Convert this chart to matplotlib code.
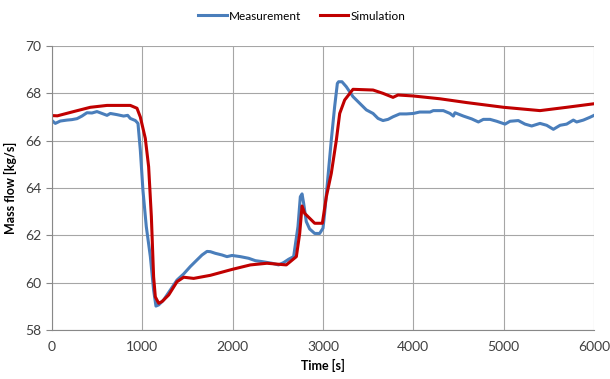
import matplotlib
matplotlib.use("Agg")
import matplotlib.pyplot as plt

# Simulation (red)
sim_t = [0, 60, 240, 424, 609, 867, 941, 978, 1033, 1070, 1100, 1125, 1144, 1181,
         1218, 1292, 1384, 1458, 1568, 1753, 1993, 2196, 2380, 2594, 2705, 2742,
         2768, 2797, 2834, 2908, 2993, 3037, 3092, 3148, 3185, 3240, 3332, 3554,
         3664, 3775, 3830, 3996, 4295, 4590, 5000, 5402, 5697, 6000]
sim_v = [67.06, 67.05, 67.23, 67.41, 67.49, 67.49, 67.37, 67.0, 66.1, 64.9, 62.8,
         60.25, 59.4, 59.13, 59.2, 59.48, 60.04, 60.23, 60.18, 60.31, 60.56, 60.75,
         60.82, 60.75, 61.1, 62.08, 63.24, 62.93, 62.79, 62.51, 62.51, 63.63, 64.62,
         66.03, 67.15, 67.72, 68.17, 68.14, 68.0, 67.83, 67.93, 67.89, 67.77, 67.61,
         67.41, 67.27, 67.41, 67.56]

meas_t = [0, 37, 92, 166, 221, 277, 332, 387, 443, 498, 554, 609, 646, 720, 793,
          838, 867, 923, 952, 978, 1007, 1044, 1089, 1125, 1151, 1181, 1236, 1310,
          1384, 1458, 1531, 1605, 1661, 1716, 1753, 1808, 1882, 1937, 1993, 2085,
          2177, 2251, 2325, 2435, 2509, 2565, 2620, 2675, 2723, 2749, 2768, 2786,
          2815, 2852, 2908, 2963, 3000, 3018, 3055, 3092, 3129, 3159, 3173, 3210,
          3258, 3332, 3406, 3480, 3554, 3609, 3664, 3720, 3775, 3849, 3923, 4000,
          4070, 4111, 4185, 4221, 4332, 4406, 4443, 4461, 4554, 4646, 4720, 4775,
          4849, 4923, 5015, 5070, 5162, 5236, 5310, 5402, 5476, 5550, 5624, 5697,
          5771, 5808, 5882, 5956, 6000]
meas_v = [66.85, 66.73, 66.83, 66.87, 66.89, 66.93, 67.04, 67.18, 67.17, 67.23,
          67.15, 67.07, 67.15, 67.1, 67.04, 67.07, 66.94, 66.85, 66.73, 65.6, 63.9,
          62.37, 61.1, 59.69, 59.01, 59.06, 59.27, 59.69, 60.11, 60.37, 60.68, 60.96,
          61.17, 61.32, 61.31, 61.24, 61.17, 61.1, 61.15, 61.1, 61.03, 60.93, 60.89,
          60.82, 60.75, 60.85, 60.99, 61.1, 62.37, 63.63, 63.75, 63.35, 62.58, 62.27,
          62.08, 62.08, 62.3, 62.93, 64.48, 66.03, 67.44, 68.42, 68.49, 68.49, 68.28,
          67.86, 67.58, 67.3, 67.15, 66.94, 66.85, 66.9, 67.01, 67.13, 67.13, 67.15,
          67.21, 67.21, 67.21, 67.27, 67.27, 67.15, 67.04, 67.18, 67.04, 66.92, 66.79,
          66.9, 66.9, 66.82, 66.7, 66.82, 66.85, 66.7, 66.62, 66.73, 66.65, 66.48,
          66.65, 66.7, 66.87, 66.79, 66.87, 66.99, 67.07]

plt.rcParams["font.family"] = ["Lato", "DejaVu Sans"]

fig = plt.figure(figsize=(6.1, 3.79), dpi=100)
ax = fig.add_axes([0.0852, 0.1293, 0.8886, 0.7493])

ax.plot(meas_t, meas_v, color="#4a7ebb", lw=2.2, label="Measurement")
ax.plot(sim_t, sim_v, color="#c00000", lw=2.2, label="Simulation")

ax.set_xlim(0, 6000)
ax.set_ylim(58, 70)
ax.set_xticks(range(0, 6001, 1000))
ax.set_yticks(range(58, 71, 2))
ax.grid(True, color="#a6a6a6", lw=0.8)
ax.set_axisbelow(True)
for side in ["top", "right"]:
    ax.spines[side].set_visible(False)
for side in ["left", "bottom"]:
    ax.spines[side].set_color("#888888")
ax.tick_params(axis="both", colors="#888888", labelcolor="#404040", labelsize=10,
               length=4, width=0.8)
ax.tick_params(axis="x", length=0, pad=8)

ax.set_xlabel("Time [s]", fontsize=9, fontweight="bold", labelpad=4)
ax.set_ylabel("Mass flow [kg/s]", fontsize=9, fontweight="bold", labelpad=6)

fig.legend(loc="upper center", bbox_to_anchor=(0.495, 1.0), ncol=2, frameon=False,
           fontsize=8.5, handlelength=2.4, columnspacing=1.6, handletextpad=0.2)

fig.savefig("out.png", dpi=100)
